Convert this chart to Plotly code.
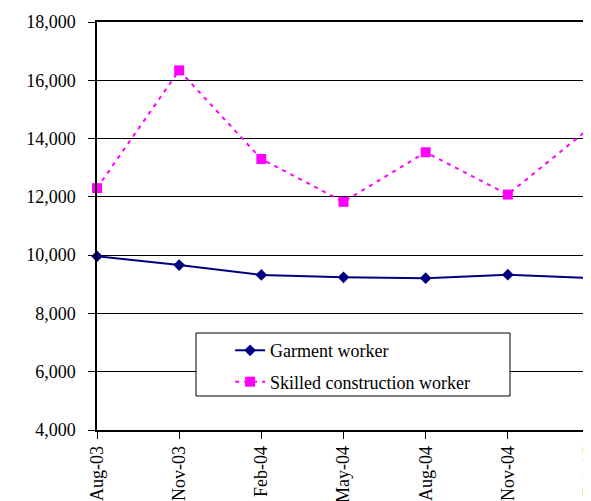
import plotly.graph_objects as go

# Monthly wages by worker type
months = ['Aug-03', 'Nov-03', 'Feb-04', 'May-04', 'Aug-04', 'Nov-04', 'Feb-05']
garment = [9960, 9660, 9320, 9240, 9210, 9330, 9210]
construction = [12300, 16340, 13300, 11830, 13530, 12080, 14370]

y_ticks = [4000, 6000, 8000, 10000, 12000, 14000, 16000, 18000]
y_labels = ['4,000', '6,000', '8,000', '10,000', '12,000', '14,000', '16,000', '18,000']

FONT = 'Liberation Serif, Times New Roman, serif'

fig = go.Figure()
fig.add_trace(go.Scatter(
    x=months, y=garment, name='Garment worker', mode='lines+markers',
    legendgroup='g1',
    line=dict(color='#000080', width=2),
    marker=dict(symbol='diamond', size=9, color='#000080'),
    cliponaxis=False,
))
fig.add_trace(go.Scatter(
    x=months, y=construction, name='Skilled construction worker', mode='lines+markers',
    legendgroup='g2',
    line=dict(color='#FF00FF', width=2, dash='4px,5px'),
    marker=dict(symbol='square', size=10, color='#FF00FF'),
    cliponaxis=False,
))

# legend frame drawn as a shape so it can be wider than the text
fig.add_shape(type='rect', xref='paper', yref='paper',
              x0=0.2008, x1=0.8377, y0=0.0833, y1=0.2377,
              fillcolor='white', line=dict(color='black', width=1), layer='above')

# page body adds an 8px offset, so margins are trimmed to keep the plot box in place
fig.update_layout(
    width=591, height=501,
    margin=dict(l=89, r=9, t=14, b=79, autoexpand=False),
    paper_bgcolor='white', plot_bgcolor='white',
    font=dict(family=FONT, size=18, color='black'),
    showlegend=True,
    legend=dict(
        x=0.27, y=0.24, xanchor='left', yanchor='top',
        bgcolor='rgba(0,0,0,0)', borderwidth=0,
        traceorder='grouped', tracegroupgap=5,
        font=dict(family=FONT, size=18, color='black'),
    ),
)
fig.update_xaxes(
    type='category', range=[0, 6], automargin=False,
    tickangle=-90, ticks='outside', ticklen=7, tickcolor='black',
    showline=True, linecolor='black', linewidth=1.5, mirror=True,
    showgrid=False, zeroline=False,
    tickfont=dict(family=FONT, size=18, color='black'),
)
fig.update_yaxes(
    range=[4000, 18000], tickvals=y_ticks, ticktext=y_labels, automargin=False,
    ticks='outside', ticklen=7, tickcolor='black', ticklabelstandoff=9,
    showline=True, linecolor='black', linewidth=1.5, mirror=True,
    showgrid=True, gridcolor='black', gridwidth=1, zeroline=False,
    tickfont=dict(family=FONT, size=18, color='black'),
)

fig.write_html('out.html')
